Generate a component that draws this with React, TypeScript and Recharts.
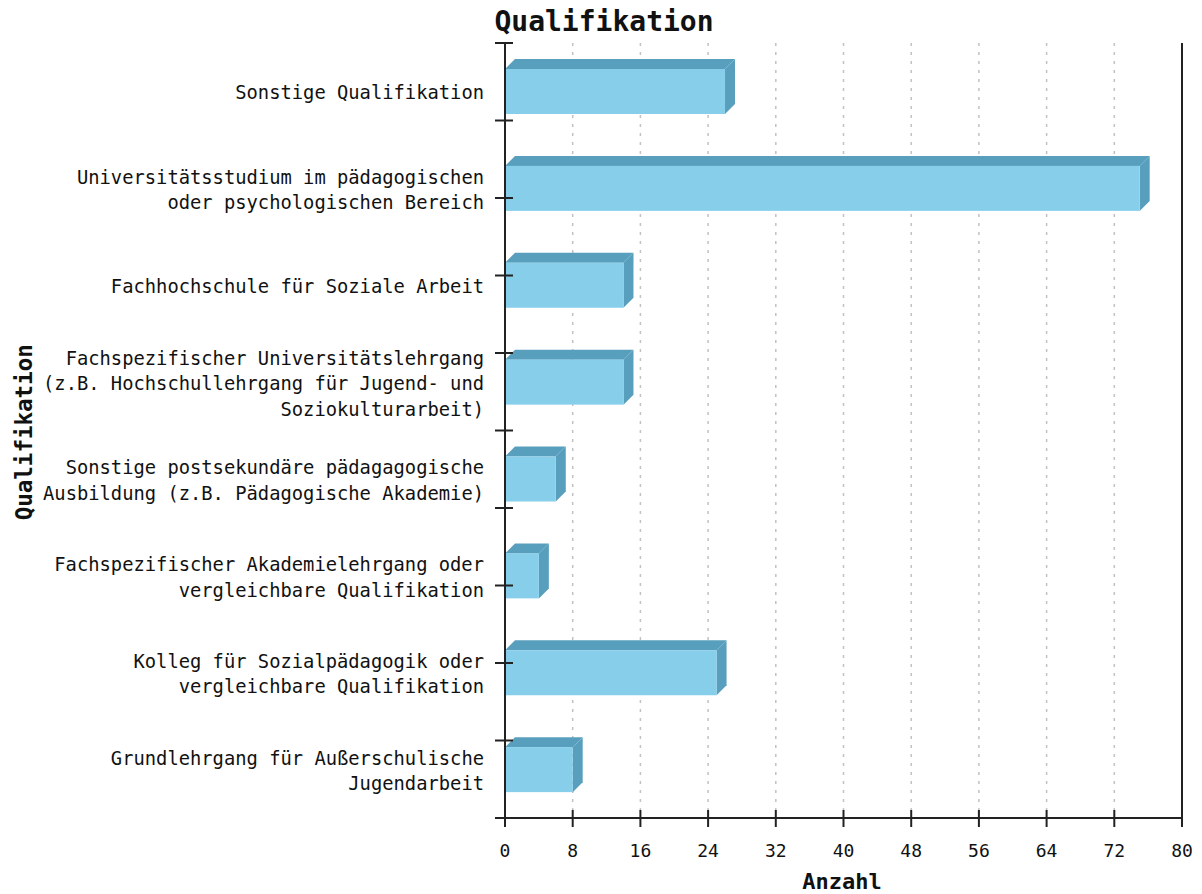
import { BarChart, Bar, XAxis, YAxis, CartesianGrid, ReferenceLine } from "recharts";

const categories = [
  "Sonstige Qualifikation",
  "Universitätsstudium im pädagogischen\noder psychologischen Bereich",
  "Fachhochschule für Soziale Arbeit",
  "Fachspezifischer Universitätslehrgang\n(z.B. Hochschullehrgang für Jugend- und\nSoziokulturarbeit)",
  "Sonstige postsekundäre pädagagogische\nAusbildung (z.B. Pädagogische Akademie)",
  "Fachspezifischer Akademielehrgang oder\nvergleichbare Qualifikation",
  "Kolleg für Sozialpädagogik oder\nvergleichbare Qualifikation",
  "Grundlehrgang für Außerschulische\nJugendarbeit",
];
const counts = [26, 75, 14, 14, 6, 4, 25, 8];
const xTicks = [0, 8, 16, 24, 32, 40, 48, 56, 64, 72, 80];
// the left axis carries 10 evenly spaced tick marks, independent of the bars
const sideTickCount = 10;

const data = categories.map((name, i) => ({ name, value: counts[i] }));

const FONT = "'DejaVu Sans Mono', monospace";
const AXIS = "#222";

function Bar3D(props: any) {
  const { x, y, width, height } = props;
  if (width == null || width <= 0) return null;
  const d = 10;
  return (
    <g>
      <polygon
        points={`${x},${y} ${x + d},${y - d} ${x + width + d},${y - d} ${x + width},${y}`}
        fill="#589fbd"
      />
      <polygon
        points={`${x + width},${y} ${x + width + d},${y - d} ${x + width + d},${y + height - d} ${x + width},${y + height}`}
        fill="#589fbd"
      />
      <rect x={x} y={y} width={width} height={height} fill="#87ceeb" />
    </g>
  );
}

function CategoryTick(props: any) {
  const { x, y, payload, index, height } = props;
  const lines = String(payload.value).split("\n");
  const lh = 25.5;
  const start = y - ((lines.length - 1) * lh) / 2 + 8;
  let marks: any = null;
  if (index === 0 && typeof height === "number") {
    const step = height / categories.length;
    const top = y - step / 2;
    const gap = height / sideTickCount;
    marks = Array.from({ length: sideTickCount + 1 }, (_, k) => (
      <line
        key={k}
        x1={x + 11}
        x2={x + 29}
        y1={top + k * gap}
        y2={top + k * gap}
        stroke={AXIS}
        strokeWidth={2}
      />
    ));
  }
  return (
    <g>
      {marks}
      <text textAnchor="end" fontFamily={FONT} fontSize={18.8} fill="#111">
        {lines.map((l, i) => (
          <tspan key={i} x={x} y={start + i * lh}>
            {l}
          </tspan>
        ))}
      </text>
    </g>
  );
}

function ValueTick(props: any) {
  const { x, y, payload } = props;
  return (
    <g>
      <line x1={x} x2={x} y1={y - 16} y2={y + 1} stroke={AXIS} strokeWidth={2} />
      <text x={x} y={y + 31} textAnchor="middle" fontFamily={FONT} fontSize={18} fill="#111">
        {payload.value}
      </text>
    </g>
  );
}

export default function App() {
  return (
    <div style={{ position: "absolute", left: 0, top: 0, width: 1202, height: 894, background: "#fff" }}>
      <div
        style={{
          position: "absolute",
          left: 0,
          width: 1208,
          top: 8,
          textAlign: "center",
          fontFamily: FONT,
          fontWeight: "bold",
          fontSize: 28,
          lineHeight: 1,
          color: "#111",
        }}
      >
        Qualifikation
      </div>
      <div
        style={{
          position: "absolute",
          left: 742,
          width: 200,
          top: 871,
          textAlign: "center",
          fontFamily: FONT,
          fontWeight: "bold",
          fontSize: 22,
          lineHeight: 1,
          color: "#111",
        }}
      >
        Anzahl
      </div>
      <div
        style={{
          position: "absolute",
          left: 24 - 100,
          width: 200,
          top: 432 - 11,
          textAlign: "center",
          fontFamily: FONT,
          fontWeight: "bold",
          fontSize: 22.5,
          lineHeight: 1,
          color: "#111",
          transform: "rotate(-90deg)",
        }}
      >
        Qualifikation
      </div>
      <BarChart
        width={1202}
        height={894}
        data={data}
        layout="vertical"
        margin={{ top: 43, right: 20, bottom: 46, left: 0 }}
        barSize={45}
      >
        <CartesianGrid horizontal={false} stroke="#c2c2c2" strokeWidth={1.5} strokeDasharray="3 6" />
        <XAxis
          type="number"
          domain={[0, 80]}
          ticks={xTicks}
          interval={0}
          height={30}
          tickSize={8}
          tickMargin={0}
          tickLine={false}
          axisLine={{ stroke: AXIS, strokeWidth: 2 }}
          tick={<ValueTick />}
        />
        <YAxis
          type="category"
          dataKey="name"
          width={505}
          interval={0}
          tickSize={8}
          tickMargin={13}
          tickLine={false}
          axisLine={{ stroke: AXIS, strokeWidth: 2 }}
          tick={<CategoryTick />}
        />
        <ReferenceLine x={80} stroke={AXIS} strokeWidth={2} />
        <Bar dataKey="value" shape={<Bar3D />} isAnimationActive={false} />
      </BarChart>
    </div>
  );
}
